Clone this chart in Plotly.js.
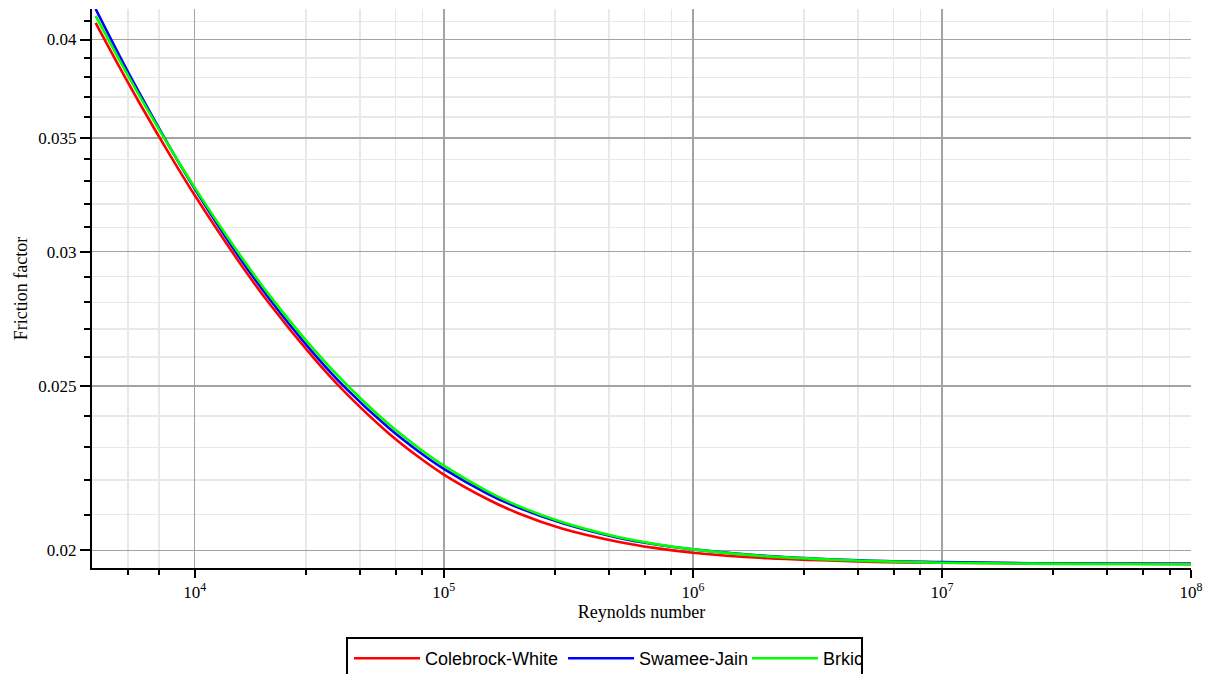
<!DOCTYPE html>
<html><head><meta charset="utf-8">
<script src="https://cdn.plot.ly/plotly-3.0.1.min.js"></script>
<style>html,body{margin:0;padding:0;background:#fff;overflow:hidden;} #chart{width:1218px;height:674px;}</style>
</head><body><div id="chart"></div>
<script>
// Reynolds numbers at which the curves were read
const reynolds = [4000, 5000, 6000, 8000, 1e4, 1.5e4, 2e4, 3e4, 4e4, 6e4, 8e4, 1e5, 1.5e5, 2e5, 3e5, 5e5, 7e5, 1e6, 2e6, 5e6, 1e7, 3e7, 1e8];
// Friction factor series
const colebrookWhite = [0.04091, 0.03850, 0.03670, 0.03415, 0.03238, 0.02961, 0.02794, 0.02597, 0.02480, 0.02345, 0.02268, 0.02217, 0.02144, 0.02103, 0.02060, 0.02024, 0.02007, 0.01994, 0.01979, 0.01970, 0.01967, 0.01965, 0.01964];
const swameeJain = [0.04169, 0.03910, 0.03719, 0.03450, 0.03267, 0.02981, 0.02812, 0.02613, 0.02496, 0.02362, 0.02285, 0.02234, 0.02160, 0.02119, 0.02075, 0.02035, 0.02017, 0.02003, 0.01985, 0.01973, 0.01969, 0.01965, 0.01964];
const brkic = [0.04130, 0.03887, 0.03706, 0.03449, 0.03272, 0.02994, 0.02826, 0.02628, 0.02511, 0.02374, 0.02296, 0.02244, 0.02167, 0.02124, 0.02078, 0.02037, 0.02018, 0.02003, 0.01984, 0.01972, 0.01967, 0.01964, 0.01963];
const seriesNames = ['Colebrock-White', 'Swamee-Jain', 'Brkic'];

// Tick labels
const xMajorTicks = [1e4, 1e5, 1e6, 1e7, 1e8];
const xMajorLabels = ['10<sup>4</sup>', '10<sup>5</sup>', '10<sup>6</sup>', '10<sup>7</sup>', '10<sup>8</sup>'];
const xMinorTicks = [5400, 7200, 28000, 46000, 64000, 82000, 280000, 460000, 640000, 820000, 2800000, 4600000, 6400000, 8200000, 28000000, 46000000, 64000000, 82000000];
const yMajorTicks = [0.02, 0.025, 0.03, 0.035, 0.04];
const yMajorLabels = ['0.02', '0.025', '0.03', '0.035', '0.04'];
const yMinorTicks = [0.021, 0.022, 0.023, 0.024, 0.026, 0.027, 0.028, 0.029, 0.031, 0.032, 0.033, 0.034, 0.036, 0.037, 0.038, 0.039, 0.041];

const serif = 'Liberation Serif, Times New Roman, serif';
const sans = 'Liberation Sans, Arial, sans-serif';
const colors = ['#ff0000', '#0000ff', '#00ff00'];
const ys = [colebrookWhite, swameeJain, brkic];
const legendIds = ['legend', 'legend', 'legend2'];

const traces = ys.map((y, i) => ({
  type: 'scatter', mode: 'lines', name: seriesNames[i], legend: legendIds[i],
  x: reynolds, y: y,
  line: {color: colors[i], width: 2.6, shape: 'spline', smoothing: 1}
}));

// page-pixel helpers for placing the legend box (plot area: l=92, t=9, w=1099, h=559)
const PL = 92, PT = 9, PW = 1099, PH = 559;
const px = v => (v - PL) / PW;
const py = v => (PT + PH - v) / PH;

const axisCommon = {
  type: 'log', tickmode: 'array', ticks: 'outside', tickwidth: 2, tickcolor: '#000',
  showline: true, linecolor: '#000', linewidth: 2, zeroline: false,
  showgrid: true, gridcolor: '#a3a3a3', gridwidth: 1.5,
  tickfont: {family: serif, size: 17, color: '#000'}
};

const legendCommon = {
  orientation: 'h', xanchor: 'left', yanchor: 'top', y: py(640),
  borderwidth: 0, bgcolor: 'rgba(0,0,0,0)', itemwidth: 66,
  font: {family: sans, size: 18, color: '#000'}
};

const layout = {
  width: 1218, height: 674,
  margin: {l: PL, r: 1218 - PL - PW, t: PT, b: 674 - PT - PH, autoexpand: false},
  paper_bgcolor: '#fff', plot_bgcolor: '#fff',
  showlegend: true,
  xaxis: Object.assign({}, axisCommon, {
    range: [Math.log10(3868), 8],
    tickvals: xMajorTicks, ticktext: xMajorLabels, ticklen: 8,
    title: {text: 'Reynolds number', font: {family: serif, size: 18, color: '#000'}, standoff: 2},
    minor: {tickmode: 'array', tickvals: xMinorTicks, ticks: 'outside', ticklen: 5, tickwidth: 2, tickcolor: '#000', showgrid: true, gridcolor: '#e8e8e8', gridwidth: 1.5}
  }),
  yaxis: Object.assign({}, axisCommon, {
    range: [Math.log10(0.01953), Math.log10(0.04169)],
    tickvals: yMajorTicks, ticktext: yMajorLabels, ticklen: 10,
    title: {text: 'Friction factor', font: {family: serif, size: 18, color: '#000'}, standoff: 6},
    minor: {tickmode: 'array', tickvals: yMinorTicks, ticks: 'outside', ticklen: 6, tickwidth: 2, tickcolor: '#000', showgrid: true, gridcolor: '#e8e8e8', gridwidth: 1.5}
  }),
  legend: Object.assign({}, legendCommon, {x: px(349)}),
  legend2: Object.assign({}, legendCommon, {x: px(747), entrywidth: 33, entrywidthmode: 'pixels'}),
  shapes: [{
    type: 'rect', xref: 'paper', yref: 'paper', layer: 'above',
    x0: px(347), x1: px(862), y0: py(638), y1: py(700),
    line: {color: '#000', width: 2}, fillcolor: 'rgba(0,0,0,0)'
  }]
};

Plotly.newPlot('chart', traces, layout, {staticPlot: true, displayModeBar: false});
</script>
</body></html>
